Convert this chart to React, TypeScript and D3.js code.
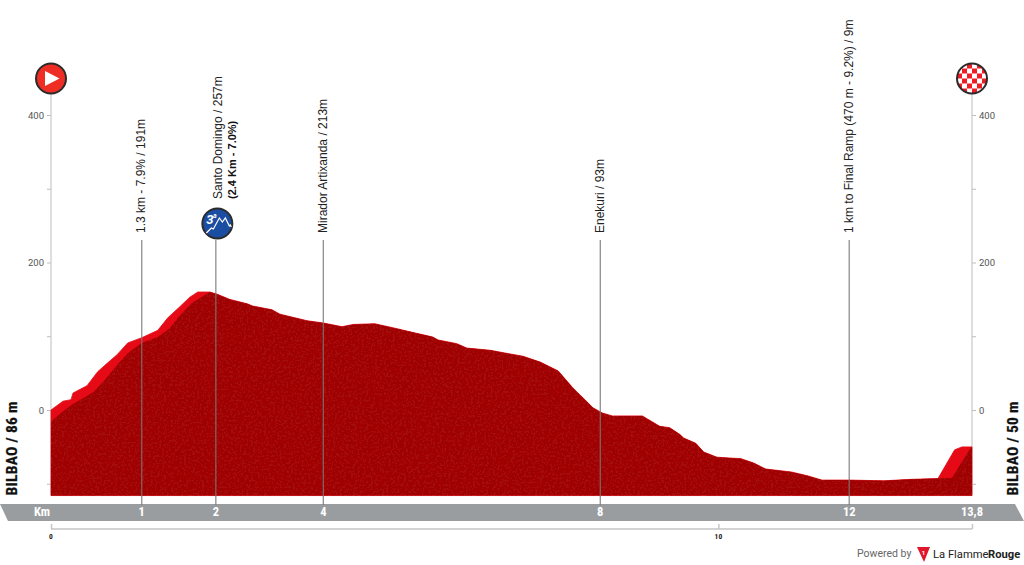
import { useEffect, useRef } from 'react';
import * as d3 from 'd3';

const width = 1024;
const height = 565;

// Profile, km and metres as labelled on the elevation axis
const brightHeadKm = [0, 0.18, 0.3, 0.33, 0.54, 0.7, 0.85, 0.99, 1.15, 1.36, 1.6, 1.75, 1.93, 2.08, 2.2];
const brightHeadElev = [0, 12, 14, 23, 33, 52, 64, 75, 91, 98, 108, 125, 140, 153, 160];
const darkHeadKm = [0, 0.16, 0.31, 0.48, 0.63, 0.81, 0.99, 1.15, 1.36, 1.6, 1.78, 1.9, 2.11];
const darkHeadElev = [-16, -3, 7, 16, 24, 41, 61, 77, 91, 99, 111, 125, 145];

const sharedKm = [
  2.38, 2.49, 2.68, 2.94, 3.02, 3.31, 3.43, 3.84, 4.08, 4.36, 4.53, 4.85, 5.15, 5.38, 5.72, 5.8, 6.08,
  6.23, 6.58, 6.88, 7.07, 7.33, 7.6, 7.82, 8.0, 8.12, 8.26, 8.41, 8.86, 9.12, 9.27, 9.42, 9.48,
  9.66, 9.78, 9.98, 10.34, 10.53, 10.71, 11.09, 11.33, 11.55, 11.96, 12.48, 12.89, 13.29
];
const sharedElev = [
  160, 157, 150, 144, 141, 136, 130, 121, 118, 113, 116, 117, 111, 106, 99, 95, 90,
  84, 81, 76, 73, 65, 53, 30, 14, 3, -4, -8, -8, -22, -24, -33, -38,
  -45, -57, -64, -66, -72, -80, -84, -89, -95, -95, -96, -94, -93
];

const brightTailKm = [13.54, 13.65, 13.8];
const brightTailElev = [-54, -50, -50];
const darkTailKm = [13.5, 13.74, 13.8];
const darkTailElev = [-92, -57, -50];

// Climbs and passage points
const markerKm = [1.36, 2.47, 4.08, 8.23, 11.96];
const markerKmLabels = ['1', '2', '4', '8', '12'];
const markerNames = [
  '1.3 km - 7.9% / 191m',
  'Santo Domingo / 257m',
  'Mirador Artixanda / 213m',
  'Enekuri / 93m',
  '1 km to Final Ramp (470 m - 9.2%) / 9m'
];
const climbDetail = '(2.4 Km - 7.0%)';

const elevTicks = [-100, 0, 100, 200, 300, 400];
const elevLabelled = [0, 200, 400];
const distanceTicks = [0, 10, 13.8];
const distanceLabelled = [0, 10];

const toPoints = (km: number[], elev: number[]) => km.map((k, i) => [k, elev[i]] as [number, number]);

export default function App() {
  const svgRef = useRef<SVGSVGElement>(null);

  useEffect(() => {
    if (!svgRef.current) return;
    const svg = d3.select(svgRef.current);
    svg.selectAll('*').remove();

    const xScale = d3.scaleLinear().domain([0, 13.8]).range([51, 972]);
    const yScale = d3.scaleLinear().domain([0, 400]).range([410, 115]);
    const floor = -116;
    const sans = 'Roboto, sans-serif';
    const labelFont = '"Liberation Sans", Arial, sans-serif';
    const narrow = '"Liberation Sans Narrow", "Roboto Condensed", Roboto, sans-serif';

    svg.append('rect').attr('width', width).attr('height', height).attr('fill', 'white');

    // Grain on the dark face
    const defs = svg.append('defs');
    const grain = defs.append('filter').attr('id', 'grain').attr('x', 0).attr('y', 0).attr('width', 1).attr('height', 1);
    grain.append('feTurbulence').attr('type', 'fractalNoise').attr('baseFrequency', 0.45).attr('numOctaves', 3).attr('seed', 4).attr('result', 'noise');
    grain.append('feColorMatrix').attr('in', 'noise').attr('type', 'matrix')
      .attr('values', '0 0 0 0 0.3  0 0 0 0 0  0 0 0 0 0  0 0 0 1.4 -0.6').attr('result', 'spots');
    grain.append('feComposite').attr('in', 'spots').attr('in2', 'SourceGraphic').attr('operator', 'in').attr('result', 'clipped');
    const merge = grain.append('feMerge');
    merge.append('feMergeNode').attr('in', 'SourceGraphic');
    merge.append('feMergeNode').attr('in', 'clipped');

    // Elevation axes
    const drawAxis = (axis: d3.Axis<d3.NumberValue>, x: number) => {
      const g = svg.append('g').attr('transform', `translate(${x},0)`).call(axis);
      g.select('.domain').remove();
      g.selectAll('line').attr('stroke', '#bdbdbd');
      g.selectAll('text').attr('fill', '#555').attr('font-family', sans).attr('font-size', 9.5);
      svg.append('line').attr('x1', x).attr('x2', x).attr('y1', 92).attr('y2', yScale(floor))
        .attr('stroke', '#c8c8c8').attr('stroke-width', 1.2);
    };
    const fmt = (d: d3.NumberValue) => (elevLabelled.includes(+d) ? String(d) : '');
    drawAxis(d3.axisLeft(yScale).tickValues(elevTicks).tickSize(4).tickFormat(fmt), xScale(0));
    drawAxis(d3.axisRight(yScale).tickValues(elevTicks).tickSize(4).tickFormat(fmt), xScale(13.8));

    // Profile
    const area = d3.area<[number, number]>()
      .x(d => xScale(d[0]))
      .y0(yScale(floor))
      .y1(d => yScale(d[1]));

    const bright = toPoints(
      [...brightHeadKm, ...sharedKm, ...brightTailKm],
      [...brightHeadElev, ...sharedElev, ...brightTailElev]
    );
    const dark = toPoints(
      [...darkHeadKm, ...sharedKm, ...darkTailKm],
      [...darkHeadElev, ...sharedElev, ...darkTailElev]
    );
    svg.append('path').attr('d', area(bright)).attr('fill', '#e60a17').attr('stroke', '#e60a17').attr('stroke-width', 0.8);
    svg.append('path').attr('d', area(dark)).attr('fill', '#a3100e').attr('filter', 'url(#grain)');

    // Km band
    svg.append('path')
      .attr('d', d3.line()([[0, 504], [1015, 504], [1024, 521], [8, 521]]) + 'Z')
      .attr('fill', '#9a9da0');
    svg.append('text').attr('x', 42).attr('y', 515.5).attr('text-anchor', 'middle')
      .attr('fill', 'white').attr('font-family', narrow).attr('font-weight', 700).attr('font-size', 12.5).text('Km');

    // Marker lines
    markerKm.forEach((km, i) => {
      const x = xScale(km);
      svg.append('line').attr('x1', x).attr('x2', x).attr('y1', 240).attr('y2', 505)
        .attr('stroke', '#777').attr('stroke-width', 1.2).attr('opacity', 0.9);
      svg.append('text').attr('x', x).attr('y', 515.5).attr('text-anchor', 'middle')
        .attr('fill', 'white').attr('font-family', narrow).attr('font-weight', 700).attr('font-size', 12.5)
        .text(markerKmLabels[i]);
      const isClimb = i === 1;
      const labelY = isClimb ? 199 : 233;
      const labelX = isClimb ? x + 6 : x + 3.5;
      svg.append('text').attr('transform', `translate(${labelX},${labelY}) rotate(-90)`)
        .attr('fill', '#222').attr('font-family', labelFont).attr('font-size', 12)
        .text(markerNames[i]);
      if (isClimb) {
        svg.append('text').attr('transform', `translate(${labelX + 14},${labelY}) rotate(-90)`)
          .attr('fill', '#111').attr('font-family', labelFont).attr('font-weight', 700).attr('font-size', 11)
          .text(climbDetail);
      }
    });
    svg.append('text').attr('x', xScale(13.8)).attr('y', 515.5).attr('text-anchor', 'middle')
      .attr('fill', 'white').attr('font-family', narrow).attr('font-weight', 700).attr('font-size', 12.5).text('13,8');

    // Distance scale under the band
    const distAxis = d3.axisTop(xScale).tickValues(distanceTicks).tickSize(5).tickFormat(() => '');
    const distG = svg.append('g').attr('transform', 'translate(0,529)').call(distAxis);
    distG.select('.domain').remove();
    distG.selectAll('line').attr('stroke', '#c4c4c4').attr('stroke-width', 1.4);
    svg.append('line').attr('x1', xScale(0)).attr('x2', xScale(13.8)).attr('y1', 529).attr('y2', 529)
      .attr('stroke', '#c4c4c4').attr('stroke-width', 1.6);
    distanceLabelled.forEach(d => {
      svg.append('text').attr('x', xScale(d)).attr('y', 539).attr('text-anchor', 'middle')
        .attr('fill', '#222').attr('font-family', narrow).attr('font-weight', 700).attr('font-size', 7.5).text(String(d));
    });

    // Start and finish names
    const sideLabel = (x: number, text: string) => {
      svg.append('text').attr('transform', `translate(${x},495.5) rotate(-90)`)
        .attr('fill', '#111').attr('stroke', '#111').attr('stroke-width', 0.25)
        .attr('font-family', narrow).attr('font-weight', 700).attr('font-size', 15.5)
        .attr('letter-spacing', 0.3).text(text);
    };
    sideLabel(16.5, 'BILBAO / 86 m');
    sideLabel(1018, 'BILBAO / 50 m');

    // Start icon
    const startX = xScale(0);
    svg.append('circle').attr('cx', startX).attr('cy', 78.5).attr('r', 15).attr('fill', '#ee2d24').attr('stroke', '#2b2b2b').attr('stroke-width', 2);
    svg.append('path').attr('d', `M${startX - 6},${71} L${startX + 8.5},${78.5} L${startX - 6},${86} Z`).attr('fill', 'white');

    // Finish icon
    const finishX = xScale(13.8);
    defs.append('clipPath').attr('id', 'finishClip').append('circle').attr('cx', finishX).attr('cy', 78.5).attr('r', 15);
    const checks = svg.append('g').attr('clip-path', 'url(#finishClip)');
    checks.append('rect').attr('x', finishX - 15).attr('y', 63.5).attr('width', 30).attr('height', 30).attr('fill', 'white');
    d3.range(6).forEach(r => d3.range(6).forEach(c => {
      if ((r + c) % 2 === 0) {
        checks.append('rect').attr('x', finishX - 15 + c * 5).attr('y', 63.5 + r * 5).attr('width', 5).attr('height', 5).attr('fill', '#ee1c25');
      }
    }));
    svg.append('circle').attr('cx', finishX).attr('cy', 78.5).attr('r', 15).attr('fill', 'none').attr('stroke', '#2b2b2b').attr('stroke-width', 2);

    // Category icon
    const climbX = xScale(markerKm[1]) + 1.5;
    svg.append('circle').attr('cx', climbX).attr('cy', 223.5).attr('r', 15).attr('fill', '#1b4ea3').attr('stroke', '#2b2b2b').attr('stroke-width', 2);
    svg.append('text').attr('x', climbX - 11).attr('y', 224).attr('fill', 'white').attr('font-family', sans)
      .attr('font-style', 'italic').attr('font-weight', 700).attr('font-size', 13).text('3');
    svg.append('text').attr('x', climbX - 4).attr('y', 218).attr('fill', 'white').attr('font-family', sans)
      .attr('font-style', 'italic').attr('font-weight', 700).attr('font-size', 6.5).text('a');
    svg.append('path')
      .attr('d', `M${climbX - 11},${233} l5,-5 l2,1 l6,-11 l3,4 l3,-4 l4,8 l1,-1 l1,2`)
      .attr('fill', 'none').attr('stroke', 'white').attr('stroke-width', 1.2);

    // Footer logo
    svg.append('text').attr('x', 857).attr('y', 557).attr('fill', '#666').attr('font-family', sans).attr('font-size', 10.5).text('Powered by');
    svg.append('path').attr('d', 'M917,547 L930,547 L924,562 Z').attr('fill', '#e0162b');
    svg.append('text').attr('x', 923.5).attr('y', 555).attr('text-anchor', 'middle').attr('fill', 'white')
      .attr('font-family', sans).attr('font-weight', 700).attr('font-size', 6).text('1');
    svg.append('text').attr('x', 933).attr('y', 558).attr('fill', '#222').attr('font-family', sans)
      .attr('font-size', 11.2).text('La Flamme');
    svg.append('text').attr('x', 988).attr('y', 558).attr('fill', '#222').attr('font-family', sans)
      .attr('font-weight', 700).attr('font-size', 11.2).text('Rouge');
  }, []);

  return (
    <svg
      ref={svgRef}
      width={width}
      height={height}
      style={{ position: 'absolute', left: 0, top: 0, display: 'block' }}
    />
  );
}
